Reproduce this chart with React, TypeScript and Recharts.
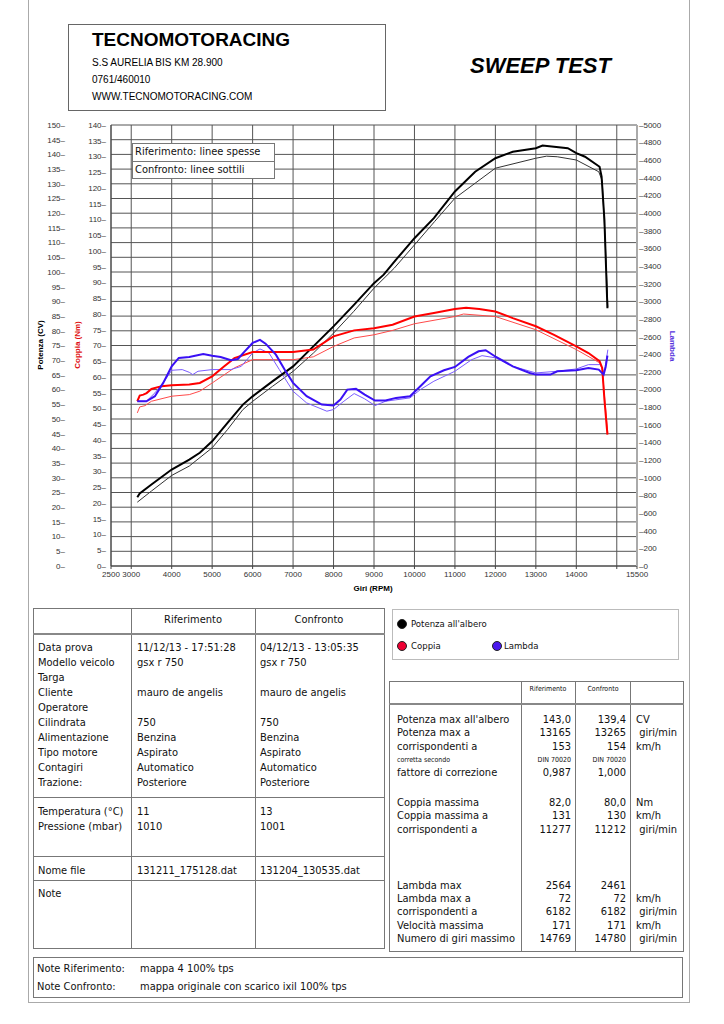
import { CartesianGrid, ComposedChart, Line, XAxis, YAxis } from 'recharts';

// --- axis ticks ---
const rpmTicks = [2500, 3000, 4000, 5000, 6000, 7000, 8000, 9000, 10000, 11000, 12000, 13000, 14000, 15000, 15500];
const potenzaTicks = [0, 5, 10, 15, 20, 25, 30, 35, 40, 45, 50, 55, 60, 65, 70, 75, 80, 85, 90, 95, 100, 105, 110, 115, 120, 125, 130, 135, 140, 145, 150];
const coppiaTicks = [0, 5, 10, 15, 20, 25, 30, 35, 40, 45, 50, 55, 60, 65, 70, 75, 80, 85, 90, 95, 100, 105, 110, 115, 120, 125, 130, 135, 140];
const lambdaTicks = [0, 200, 400, 600, 800, 1000, 1200, 1400, 1600, 1800, 2000, 2200, 2400, 2600, 2800, 3000, 3200, 3400, 3600, 3800, 4000, 4200, 4400, 4600, 4800, 5000];

// --- Potenza all'albero (CV) ---
const powerRefRpm = [3150, 3210, 3500, 4000, 4435, 4695, 5000, 5380, 5760, 6000, 6490, 7000, 7500, 8000, 8510, 9000, 9240, 9540, 10000, 10480, 11000, 11500, 12000, 12430, 13000, 13165, 13790, 14000, 14215, 14575, 14625, 14695, 14769];
const powerRefCv = [23.4, 24.7, 27.7, 32.8, 36.2, 38.5, 42.4, 48.7, 54.9, 57.7, 62.8, 67.9, 74.7, 81.5, 88.9, 96.2, 99.1, 104.1, 111.5, 118.3, 127.4, 134.1, 138.7, 140.9, 142.1, 143.0, 142.1, 140.4, 139.2, 135.8, 132.4, 117.7, 87.7];
const powerConfRpm = [3150, 3500, 4000, 4435, 5000, 5380, 5760, 6000, 6490, 7000, 7500, 8000, 8500, 9000, 9500, 10000, 10500, 11000, 11500, 12000, 13000, 13265, 13530, 14000, 14555, 14640, 14710, 14780];
const powerConfCv = [21.7, 25.5, 30.8, 34.0, 40.2, 46.4, 53.2, 56.0, 61.1, 66.2, 72.4, 79.2, 86.6, 94.5, 101.3, 109.2, 117.2, 125.1, 130.2, 135.3, 138.7, 139.4, 139.2, 138.1, 134.1, 131.0, 112.0, 88.0];

// --- Coppia (Nm) ---
const torqueRefRpm = [3150, 3210, 3300, 3380, 3500, 3750, 4000, 4435, 4695, 5000, 5300, 5550, 6000, 6490, 7000, 7500, 8000, 8510, 9000, 9460, 10000, 10480, 11000, 11277, 11600, 12000, 12430, 13000, 13450, 14000, 14300, 14575, 14640, 14695, 14769];
const torqueRefNm = [52.3, 54.1, 54.4, 54.9, 56.2, 57.1, 57.4, 57.6, 58.1, 60.2, 63.4, 66.0, 67.9, 67.9, 67.9, 68.7, 72.9, 74.8, 75.5, 76.6, 79.2, 80.3, 81.6, 82.0, 81.6, 80.8, 78.7, 76.1, 73.4, 69.7, 67.6, 65.0, 62.9, 52.8, 41.7];
const torqueConfRpm = [3150, 3210, 3340, 3500, 4000, 4435, 4695, 5000, 5550, 6000, 6490, 7000, 7500, 8000, 8510, 9000, 9460, 10000, 11000, 11212, 12000, 13000, 14000, 14575, 14640, 14710, 14780];
const torqueConfNm = [48.6, 50.5, 50.9, 52.3, 53.9, 54.4, 55.5, 58.1, 62.9, 65.5, 65.5, 65.5, 66.4, 69.7, 72.4, 73.4, 74.8, 76.9, 79.2, 80.0, 79.2, 75.0, 68.7, 64.5, 62.5, 52.0, 42.0];

// --- Lambda ---
const lambdaRefRpm = [3150, 3375, 3585, 3790, 4000, 4175, 4435, 4780, 5000, 5210, 5465, 5635, 5805, 6000, 6182, 6320, 6575, 6790, 7000, 7335, 7710, 8000, 8170, 8340, 8555, 8770, 9025, 9285, 9545, 9890, 10145, 10395, 10730, 11000, 11330, 11585, 11760, 12015, 12430, 12850, 13000, 13360, 13530, 14000, 14300, 14555, 14675, 14725, 14769];
const lambdaRefVal = [1868, 1868, 1925, 2076, 2264, 2359, 2370, 2404, 2385, 2370, 2332, 2347, 2434, 2529, 2564, 2521, 2396, 2227, 2076, 1925, 1830, 1819, 1887, 2000, 2008, 1944, 1876, 1876, 1906, 1925, 2038, 2151, 2219, 2257, 2370, 2434, 2446, 2370, 2264, 2189, 2170, 2170, 2208, 2219, 2245, 2227, 2170, 2257, 2385];
const lambdaConfRpm = [3150, 3375, 3585, 3790, 4000, 4260, 4435, 4520, 4650, 5000, 5465, 5720, 6000, 6182, 6405, 6660, 7000, 7335, 7835, 8000, 8255, 8510, 8770, 9025, 9285, 9890, 10145, 10480, 11000, 11415, 11670, 12015, 12430, 13000, 13530, 14000, 14300, 14600, 14690, 14780];
const lambdaConfVal = [1868, 1868, 1963, 2076, 2219, 2227, 2196, 2170, 2208, 2227, 2227, 2264, 2415, 2461, 2415, 2227, 1981, 1849, 1755, 1774, 1868, 1955, 1895, 1819, 1868, 1906, 2000, 2095, 2208, 2340, 2385, 2359, 2264, 2189, 2208, 2234, 2283, 2283, 2189, 2453];

// --- tables ---
const infoLabels = ['Data prova', 'Modello veicolo', 'Targa', 'Cliente', 'Operatore', 'Cilindrata', 'Alimentazione', 'Tipo motore', 'Contagiri', 'Trazione:'];
const infoRef = ['11/12/13 - 17:51:28', 'gsx r 750', '', 'mauro de angelis', '', '750', 'Benzina', 'Aspirato', 'Automatico', 'Posteriore'];
const infoConf = ['04/12/13 - 13:05:35', 'gsx r 750', '', 'mauro de angelis', '', '750', 'Benzina', 'Aspirato', 'Automatico', 'Posteriore'];
const envLabels = ['Temperatura (°C)', 'Pressione (mbar)'];
const envRef = ['11', '1010'];
const envConf = ['13', '1001'];
const fileRef = '131211_175128.dat';
const fileConf = '131204_130535.dat';

const resLabels = ["Potenza max all'albero", 'Potenza max a', 'corrispondenti a', 'corretta secondo', 'fattore di correzione', 'Coppia massima', 'Coppia massima a', 'corrispondenti a', 'Lambda max', 'Lambda max a', 'corrispondenti a', 'Velocità massima', 'Numero di giri massimo'];
const resRef = ['143,0', '13165', '153', 'DIN 70020', '0,987', '82,0', '131', '11277', '2564', '72', '6182', '171', '14769'];
const resConf = ['139,4', '13265', '154', 'DIN 70020', '1,000', '80,0', '130', '11212', '2461', '72', '6182', '171', '14780'];
const resUnits = ['CV', ' giri/min', 'km/h', '', '', 'Nm', 'km/h', ' giri/min', '', 'km/h', ' giri/min', 'km/h', ' giri/min'];
const resRowY = [720, 733, 747, 760, 773, 803, 816, 830, 886, 899, 912, 926, 939];

const zip = (rpm: number[], v: number[]) => rpm.map((r, i) => ({ rpm: r, v: v[i] }));

const TF = '"DejaVu Sans Condensed", "DejaVu Sans", sans-serif';
const AF = '"Liberation Sans", Arial, sans-serif';
const tickStyle = { fontSize: 8, fill: '#333', fontFamily: AF };

function Txt({ x, y, children, size = 11, align = 'left', w = 0, color = '#111' }: any) {
    const style: any = {
        position: 'absolute',
        top: y - 8,
        height: 16,
        lineHeight: '16px',
        fontSize: size,
        fontFamily: TF,
        fontStretch: 'condensed',
        color,
        whiteSpace: 'pre',
    };
    if (align === 'right') {
        style.left = x - 200;
        style.width = 200;
        style.textAlign = 'right';
    } else if (align === 'center') {
        style.left = x - w / 2;
        style.width = w;
        style.textAlign = 'center';
    } else {
        style.left = x;
    }
    return <div style={style}>{children}</div>;
}

function Box({ x, y, w, h, color = '#777', bg }: any) {
    return (
        <div
            style={{ position: 'absolute', left: x, top: y, width: w, height: h, border: `1px solid ${color}`, boxSizing: 'border-box', background: bg }}
        />
    );
}

function HLine({ x, y, w, t = 1, color = '#777' }: any) {
    return <div style={{ position: 'absolute', left: x, top: y, width: w, height: t, background: color }} />;
}

function VLine({ x, y, h, color = '#777' }: any) {
    return <div style={{ position: 'absolute', left: x, top: y, width: 1, height: h, background: color }} />;
}

function Dot({ x, y, color }: any) {
    return (
        <div
            style={{ position: 'absolute', left: x - 5, top: y - 5, width: 10, height: 10, borderRadius: '50%', background: color, border: '1px solid #222', boxSizing: 'border-box' }}
        />
    );
}

export default function App() {
    return (
        <div style={{ position: 'relative', width: 724, height: 1024, background: '#fff', overflow: 'hidden' }}>
            <style>{'body{margin:0}'}</style>

            {/* page frame */}
            <div style={{ position: 'absolute', left: 28, top: -2, width: 662, height: 1005, borderLeft: '1px solid #aaa', borderRight: '1px solid #aaa', borderBottom: '1px solid #aaa', boxSizing: 'border-box' }} />

            {/* header */}
            <Box x={68} y={24} w={318} h={87} color="#666" />
            <div style={{ position: 'absolute', left: 92, top: 28, fontFamily: AF, fontWeight: 'bold', fontSize: 19, lineHeight: '24px' }}>TECNOMOTORACING</div>
            <div style={{ position: 'absolute', left: 92, top: 57, fontFamily: AF, fontSize: 10, lineHeight: '12px' }}>S.S AURELIA BIS KM 28.900</div>
            <div style={{ position: 'absolute', left: 92, top: 74, fontFamily: AF, fontSize: 10, lineHeight: '12px' }}>0761/460010</div>
            <div style={{ position: 'absolute', left: 92, top: 91, fontFamily: AF, fontSize: 10, lineHeight: '12px' }}>WWW.TECNOMOTORACING.COM</div>
            <div style={{ position: 'absolute', left: 470, top: 52, fontFamily: AF, fontWeight: 'bold', fontStyle: 'italic', fontSize: 22, lineHeight: '28px' }}>SWEEP TEST</div>

            {/* chart */}
            <div style={{ position: 'absolute', left: 0, top: 0 }}>
                <ComposedChart width={724} height={600} margin={{ top: 125, right: 42, bottom: 14, left: 8 }}>
                    <CartesianGrid yAxisId="p" stroke="#555" strokeWidth={1} />
                    <XAxis
                        dataKey="rpm"
                        type="number"
                        domain={[2500, 15500]}
                        ticks={rpmTicks}
                        interval={0}
                        allowDataOverflow
                        height={20}
                        tick={tickStyle}
                        tickSize={3}
                        tickMargin={2}
                        stroke="#444"
                        tickFormatter={(v: number) => (v === 15000 ? '' : String(v))}
                    />
                    <YAxis
                        yAxisId="c"
                        orientation="left"
                        domain={[0, 140]}
                        ticks={coppiaTicks}
                        interval={0}
                        width={45}
                        tick={tickStyle}
                        tickSize={0}
                        tickMargin={5}
                        stroke="#444"
                        tickFormatter={(v: number) => `${v}\u2013`}
                    />
                    <YAxis
                        yAxisId="p"
                        orientation="left"
                        domain={[0, 150]}
                        ticks={potenzaTicks}
                        interval={0}
                        width={58}
                        tick={tickStyle}
                        tickSize={0}
                        tickMargin={1}
                        axisLine={false}
                        tickFormatter={(v: number) => `${v}\u2013`}
                    />
                    <YAxis
                        yAxisId="l"
                        orientation="right"
                        domain={[0, 5000]}
                        ticks={lambdaTicks}
                        interval={0}
                        width={45}
                        tick={tickStyle}
                        tickSize={0}
                        tickMargin={2}
                        stroke="#aaa"
                        strokeWidth={2}
                        tickFormatter={(v: number) => `\u2013${v}`}
                    />

                    <Line yAxisId="p" data={zip(powerConfRpm, powerConfCv)} dataKey="v" stroke="#333" strokeWidth={1} dot={false} isAnimationActive={false} />
                    <Line yAxisId="c" data={zip(torqueConfRpm, torqueConfNm)} dataKey="v" stroke="#ff4a4a" strokeWidth={1} dot={false} isAnimationActive={false} />
                    <Line yAxisId="l" data={zip(lambdaConfRpm, lambdaConfVal)} dataKey="v" stroke="#7a5cff" strokeWidth={1} dot={false} isAnimationActive={false} />
                    <Line yAxisId="p" data={zip(powerRefRpm, powerRefCv)} dataKey="v" stroke="#000" strokeWidth={2} dot={false} isAnimationActive={false} />
                    <Line yAxisId="c" data={zip(torqueRefRpm, torqueRefNm)} dataKey="v" stroke="#ff0000" strokeWidth={2} dot={false} isAnimationActive={false} />
                    <Line yAxisId="l" data={zip(lambdaRefRpm, lambdaRefVal)} dataKey="v" stroke="#3a10f5" strokeWidth={2} dot={false} isAnimationActive={false} />
                </ComposedChart>
            </div>

            {/* axis titles */}
            <div style={{ position: 'absolute', left: 40, top: 345, transform: 'translate(-50%,-50%) rotate(-90deg)', fontFamily: AF, fontWeight: 'bold', fontSize: 8, whiteSpace: 'nowrap' }}>Potenza (CV)</div>
            <div style={{ position: 'absolute', left: 77, top: 345, transform: 'translate(-50%,-50%) rotate(-90deg)', fontFamily: AF, fontWeight: 'bold', fontSize: 8, color: '#e01010', whiteSpace: 'nowrap' }}>Coppia (Nm)</div>
            <div style={{ position: 'absolute', left: 672, top: 346, transform: 'translate(-50%,-50%) rotate(90deg)', fontFamily: AF, fontWeight: 'bold', fontSize: 8, color: '#5533dd', whiteSpace: 'nowrap' }}>Lambda</div>
            <div style={{ position: 'absolute', left: 373, top: 588, transform: 'translate(-50%,-50%)', fontFamily: AF, fontWeight: 'bold', fontSize: 8, whiteSpace: 'nowrap' }}>Giri (RPM)</div>

            {/* line-style legend inside plot */}
            <Box x={132} y={143} w={143} h={36} color="#777" bg="#fff" />
            <HLine x={132} y={161} w={143} />
            <Txt x={135} y={152} size={11}>Riferimento: linee spesse</Txt>
            <Txt x={135} y={170} size={11}>Confronto: linee sottili</Txt>

            {/* left info table */}
            <Box x={33} y={608} w={352} h={341} />
            <VLine x={131} y={608} h={341} />
            <VLine x={255} y={608} h={341} />
            <HLine x={33} y={633} w={352} t={2} color="#888" />
            <HLine x={33} y={797} w={352} />
            <HLine x={33} y={856} w={352} />
            <HLine x={33} y={880} w={352} />
            <Txt x={193} y={620} align="center" w={120}>Riferimento</Txt>
            <Txt x={319} y={620} align="center" w={120}>Confronto</Txt>
            {infoLabels.map((l, i) => (
                <Txt key={`il${i}`} x={38} y={648 + i * 15}>{l}</Txt>
            ))}
            {infoRef.map((l, i) => (
                <Txt key={`ir${i}`} x={137} y={648 + i * 15}>{l}</Txt>
            ))}
            {infoConf.map((l, i) => (
                <Txt key={`ic${i}`} x={260} y={648 + i * 15}>{l}</Txt>
            ))}
            {envLabels.map((l, i) => (
                <Txt key={`el${i}`} x={38} y={812 + i * 15}>{l}</Txt>
            ))}
            {envRef.map((l, i) => (
                <Txt key={`er${i}`} x={137} y={812 + i * 15}>{l}</Txt>
            ))}
            {envConf.map((l, i) => (
                <Txt key={`ec${i}`} x={260} y={812 + i * 15}>{l}</Txt>
            ))}
            <Txt x={38} y={871}>Nome file</Txt>
            <Txt x={137} y={871}>{fileRef}</Txt>
            <Txt x={260} y={871}>{fileConf}</Txt>
            <Txt x={38} y={894}>Note</Txt>

            {/* series legend */}
            <Box x={392} y={609} w={287} h={51} color="#bbb" />
            <Dot x={402} y={624} color="#000" />
            <Txt x={411} y={624} size={9.5}>Potenza all'albero</Txt>
            <Dot x={402} y={646} color="#ee0033" />
            <Txt x={411} y={646} size={9.5}>Coppia</Txt>
            <Dot x={497} y={646} color="#4a18ee" />
            <Txt x={504} y={646} size={9.5}>Lambda</Txt>

            {/* right results table */}
            <Box x={389} y={681} w={295} h={271} />
            <VLine x={521} y={681} h={271} />
            <VLine x={575} y={681} h={271} />
            <VLine x={630} y={681} h={271} />
            <HLine x={389} y={703} w={295} t={2} color="#888" />
            <Txt x={548} y={689} align="center" w={54} size={7}>Riferimento</Txt>
            <Txt x={603} y={689} align="center" w={54} size={7}>Confronto</Txt>
            {resLabels.map((l, i) => (
                <Txt key={`rl${i}`} x={397} y={resRowY[i]} size={i === 3 ? 7 : 11}>{l}</Txt>
            ))}
            {resRef.map((l, i) => (
                <Txt key={`rr${i}`} x={571} y={resRowY[i]} align="right" size={i === 3 ? 7 : 11}>{l}</Txt>
            ))}
            {resConf.map((l, i) => (
                <Txt key={`rc${i}`} x={626} y={resRowY[i]} align="right" size={i === 3 ? 7 : 11}>{l}</Txt>
            ))}
            {resUnits.map((l, i) => (
                <Txt key={`ru${i}`} x={636} y={resRowY[i]}>{l}</Txt>
            ))}

            {/* notes */}
            <Box x={33} y={957} w={650} h={41} />
            <Txt x={37} y={969}>Note Riferimento:</Txt>
            <Txt x={140} y={969}>mappa 4 100% tps</Txt>
            <Txt x={37} y={987}>Note Confronto:</Txt>
            <Txt x={140} y={987}>mappa originale con scarico ixil 100% tps</Txt>
        </div>
    );
}
